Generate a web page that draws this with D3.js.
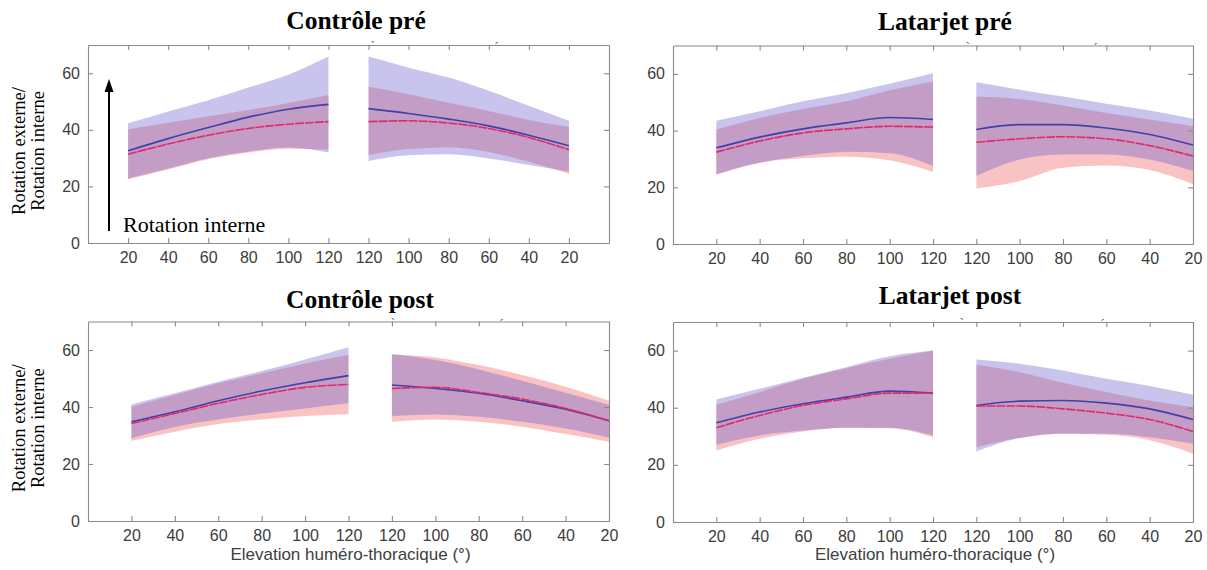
<!DOCTYPE html>
<html><head><meta charset="utf-8">
<script src="https://cdn.jsdelivr.net/npm/d3@7/dist/d3.min.js"></script>
<style>
html,body{margin:0;padding:0;background:#fff;}
svg{display:block;}
</style></head>
<body>
<svg id="chart" width="1207" height="570"></svg>
<script>
// ---------- DATA ----------
const xTickLabels = [20, 40, 60, 80, 100, 120, 120, 100, 80, 60, 40, 20];
const yTicks = [0, 20, 40, 60];
const titles = ["Contrôle pré", "Latarjet pré", "Contrôle post", "Latarjet post"];
const yLabelLines = ["Rotation externe/", "Rotation interne"];
const xLabel = "Elevation huméro-thoracique (°)";
const arrowLabel = "Rotation interne";

// Contrôle pré
const cPreBlueMean = [32.6, 36.9, 40.8, 44.5, 47.3, 49.0, 47.5, 45.8, 43.8, 41.4, 38.1, 34.4];
const cPreBlueUp   = [42.3, 46.5, 50.5, 55.0, 59.5, 65.9, 65.9, 62.0, 58.5, 53.8, 48.5, 43.2];
const cPreBlueLo   = [22.8, 26.3, 30.0, 32.3, 33.8, 32.0, 29.0, 31.0, 31.4, 29.9, 27.6, 25.2];
const cPreRedMean  = [31.4, 35.0, 38.1, 40.5, 42.0, 42.9, 42.9, 43.2, 42.4, 40.5, 37.3, 33.0];
const cPreRedUp    = [40.2, 42.5, 44.8, 47.0, 49.5, 52.3, 55.2, 52.6, 49.6, 46.7, 43.5, 41.0];
const cPreRedLo    = [22.5, 26.0, 29.6, 32.0, 33.3, 33.0, 31.0, 33.2, 33.8, 32.2, 28.7, 24.5];

// Latarjet pré
const lPreBlueMean = [33.9, 37.7, 40.6, 42.7, 44.6, 43.9, 40.4, 42.1, 42.1, 40.9, 38.6, 34.9];
const lPreBlueUp   = [43.5, 46.8, 50.3, 53.2, 56.5, 60.2, 57.0, 54.4, 52.0, 49.5, 47.1, 44.2];
const lPreBlueLo   = [24.6, 28.7, 31.0, 32.5, 32.0, 27.5, 24.0, 29.8, 31.6, 31.6, 29.8, 25.7];
const lPreRedMean  = [32.4, 36.3, 39.2, 40.6, 41.5, 41.2, 35.9, 37.1, 37.8, 37.1, 34.7, 31.0];
const lPreRedUp    = [40.4, 44.4, 47.6, 50.3, 54.2, 57.3, 52.0, 51.1, 48.8, 46.2, 43.9, 41.5];
const lPreRedLo    = [24.4, 28.6, 30.2, 30.8, 29.5, 25.4, 19.6, 22.2, 26.9, 27.7, 26.1, 21.1];

// Contrôle post
const cPostBlueMean = [34.8, 38.3, 42.2, 45.6, 48.5, 51.0, 47.7, 46.5, 44.8, 42.2, 39.2, 35.2];
const cPostBlueUp   = [40.9, 44.8, 48.9, 52.6, 56.7, 61.0, 58.6, 56.5, 53.2, 49.2, 45.0, 40.7];
const cPostBlueLo   = [29.0, 33.0, 35.6, 37.7, 39.5, 41.3, 36.8, 37.4, 36.6, 34.8, 32.5, 29.3];
const cPostRedMean  = [34.2, 37.7, 41.3, 44.4, 46.9, 47.9, 46.5, 46.9, 45.1, 42.8, 39.5, 35.2];
const cPostRedUp    = [40.1, 44.2, 48.3, 51.8, 55.3, 58.3, 58.3, 57.4, 54.7, 51.2, 47.1, 42.2];
const cPostRedLo    = [28.1, 31.3, 34.0, 35.6, 36.8, 37.5, 34.8, 35.6, 34.8, 33.1, 30.5, 27.8];

// Latarjet post
const lPostBlueMean = [34.7, 38.5, 41.4, 43.7, 45.8, 45.1, 40.8, 42.3, 42.5, 41.6, 39.6, 35.9];
const lPostBlueUp   = [42.9, 46.6, 50.5, 54.2, 58.0, 60.0, 56.9, 55.4, 53.0, 50.1, 47.6, 44.5];
const lPostBlueLo   = [27.0, 30.3, 32.0, 33.0, 33.0, 30.3, 24.7, 29.4, 30.9, 30.9, 29.7, 27.4];
const lPostRedMean  = [33.0, 37.3, 40.8, 43.1, 45.1, 45.1, 40.6, 40.6, 39.6, 38.1, 35.9, 31.7];
const lPostRedUp    = [41.0, 45.5, 50.1, 53.8, 57.1, 60.0, 55.0, 52.4, 48.7, 45.5, 42.5, 40.2];
const lPostRedLo    = [25.0, 29.1, 31.7, 33.0, 32.8, 29.7, 26.2, 29.4, 30.9, 30.5, 28.6, 23.9];

// ---------- LAYOUT / STYLE ----------
const panels = [
  {title: titles[0], box:[88, 609, 45, 243], xdom:[-1, 12], tx:356, ty:29,
   blue:[cPreBlueMean, cPreBlueUp, cPreBlueLo], red:[cPreRedMean, cPreRedUp, cPreRedLo],
   ylab:true, xlab:false, ghost:[373, 497]},
  {title: titles[1], box:[673, 1193, 45.5, 244], xdom:[-1, 11], tx:945, ty:30,
   blue:[lPreBlueMean, lPreBlueUp, lPreBlueLo], red:[lPreRedMean, lPreRedUp, lPreRedLo],
   ylab:false, xlab:false, ghost:[968, 1096]},
  {title: titles[2], box:[88, 609, 321.5, 521], xdom:[-1, 11], tx:360, ty:308,
   blue:[cPostBlueMean, cPostBlueUp, cPostBlueLo], red:[cPostRedMean, cPostRedUp, cPostRedLo],
   ylab:true, xlab:true, ghost:[393, 502]},
  {title: titles[3], box:[673, 1193, 322, 522], xdom:[-1, 11], tx:950, ty:304,
   blue:[lPostBlueMean, lPostBlueUp, lPostBlueLo], red:[lPostRedMean, lPostRedUp, lPostRedLo],
   ylab:false, xlab:true, ghost:[962, 1103]}
];

const axisColor = "#8a8a8a";
const tickText = "#3c3c3c";
const pinkFill = "#f9c3c3";
const blueFill = "rgba(102,92,205,0.36)";
const blueLine = "#4040ab";
const redLine = "#e2286a";
const serif = "'Liberation Serif','Times New Roman',serif";
const sans = "'Liberation Sans',Arial,Helvetica,sans-serif";

const svg = d3.select("#chart");

panels.forEach(p => {
  const [x0, x1, yT, yB] = p.box;
  const x = d3.scaleLinear().domain(p.xdom).range([x0, x1]);
  const y = d3.scaleLinear().domain([0, 70]).range([yB, yT]);
  const g = svg.append("g");

  const halves = [[0,1,2,3,4,5],[6,7,8,9,10,11]];
  const curve = d3.curveMonotoneX;

  const drawBand = (up, lo, fill) => {
    halves.forEach(idx => {
      const area = d3.area().curve(curve)
        .x(i => x(i)).y0(i => y(lo[i])).y1(i => y(up[i]));
      g.append("path").attr("d", area(idx)).attr("fill", fill).attr("stroke", "none");
    });
  };
  const drawLine = (vals, color, dash) => {
    halves.forEach(idx => {
      const line = d3.line().curve(curve).x(i => x(i)).y(i => y(vals[i]));
      const pth = g.append("path").attr("d", line(idx)).attr("fill", "none")
        .attr("stroke", color).attr("stroke-width", 1.6);
      if (dash) pth.attr("stroke-dasharray", dash);
    });
  };

  drawBand(p.red[1], p.red[2], pinkFill);
  drawBand(p.blue[1], p.blue[2], blueFill);
  drawLine(p.blue[0], blueLine, null);
  drawLine(p.red[0], redLine, "9,1");

  // axes: bottom, top, left, right (MATLAB box style, inward ticks)
  const tickIdx = d3.range(12);
  const bottom = d3.axisBottom(x).tickValues(tickIdx).tickFormat(i => xTickLabels[i])
    .tickSizeInner(-5).tickSizeOuter(0).tickPadding(9);
  const top = d3.axisTop(x).tickValues(tickIdx).tickFormat("")
    .tickSizeInner(-5).tickSizeOuter(0);
  const left = d3.axisLeft(y).tickValues(yTicks).tickSizeInner(-5).tickSizeOuter(0).tickPadding(8);
  const right = d3.axisRight(y).tickValues(yTicks).tickFormat("").tickSizeInner(-5).tickSizeOuter(0);

  const styleAxis = sel => {
    sel.select(".domain").attr("stroke", axisColor).attr("stroke-width", 1.1);
    sel.selectAll(".tick line").attr("stroke", axisColor).attr("stroke-width", 1.1);
    sel.selectAll(".tick text").attr("fill", tickText).attr("font-family", sans).attr("font-size", 16);
  };
  g.append("g").attr("transform", `translate(0,${yB})`).call(bottom).call(styleAxis);
  g.append("g").attr("transform", `translate(0,${yT})`).call(top).call(styleAxis);
  g.append("g").attr("transform", `translate(${x0},0)`).call(left).call(styleAxis);
  g.append("g").attr("transform", `translate(${x1},0)`).call(right).call(styleAxis);

  // ghost marks above box
  g.append("text").attr("x", p.ghost[0]).attr("y", yT + 6).text("`")
    .attr("font-family", sans).attr("font-size", 13).attr("fill", "#555").attr("text-anchor", "middle");
  g.append("text").attr("x", p.ghost[1]).attr("y", yT + 7).text("´")
    .attr("font-family", sans).attr("font-size", 13).attr("fill", "#555").attr("text-anchor", "middle");

  // title
  svg.append("text").attr("x", p.tx).attr("y", p.ty).attr("text-anchor", "middle")
    .attr("font-family", serif).attr("font-weight", "bold").attr("font-size", 25.5)
    .attr("fill", "#000").text(p.title);

  if (p.ylab) {
    const cy = (yT + yB) / 2 + 7;
    [25, 44].forEach((bx, k) => {
      svg.append("text").attr("transform", `translate(${bx},${cy}) rotate(-90)`)
        .attr("text-anchor", "middle").attr("font-family", serif).attr("font-size", 18.5)
        .attr("fill", "#000").text(yLabelLines[k]);
    });
  }
  if (p.xlab) {
    svg.append("text").attr("x", (x0 + x1) / 2 + 2).attr("y", 560).attr("text-anchor", "middle")
      .attr("font-family", sans).attr("font-size", 17).attr("fill", "#404040").text(xLabel);
  }
});

// arrow + "Rotation interne" in first panel
svg.append("line").attr("x1", 109).attr("y1", 231).attr("x2", 109).attr("y2", 90)
  .attr("stroke", "#000").attr("stroke-width", 2);
svg.append("path").attr("d", "M109,79 L104.5,92 L113.5,92 Z").attr("fill", "#000");
svg.append("text").attr("x", 123).attr("y", 232).attr("font-family", serif)
  .attr("font-size", 22).attr("fill", "#000").text(arrowLabel);
</script>
</body></html>
